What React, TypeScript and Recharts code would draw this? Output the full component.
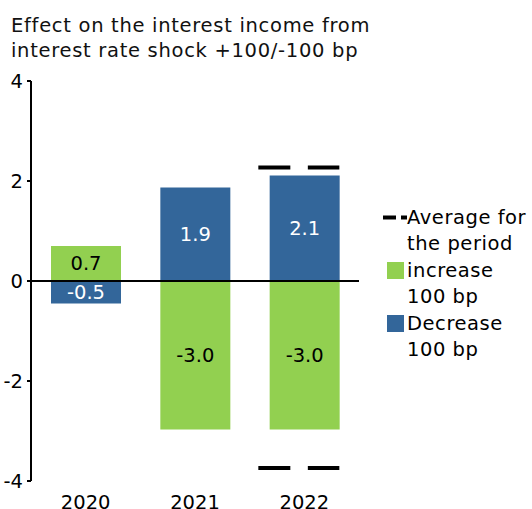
import {
	ComposedChart,
	Bar,
	Scatter,
	XAxis,
	YAxis,
	ReferenceLine,
	LabelList,
} from "recharts";

const years = ["2020", "2021", "2022"];
const increase = [0.7, -2.97, -2.97];
const decrease = [-0.45, 1.87, 2.11];
const averageHigh = [null, null, 2.27];
const averageLow = [null, null, -3.74];
const yTicks = [-4, -2, 0, 2, 4];

const GREEN = "#92d050";
const BLUE = "#33669a";
const FONT = "'DejaVu Sans', Verdana, sans-serif";
const FS = 19.5;

const data = years.map((year, i) => ({
	year,
	increase: increase[i],
	decrease: decrease[i],
	avgHigh: averageHigh[i],
	avgLow: averageLow[i],
}));

const legendItems = [
	{ key: "avg", lines: ["Average for", "the period"], type: "dash", color: "#000" },
	{ key: "inc", lines: ["increase", "100 bp"], type: "square", color: GREEN },
	{ key: "dec", lines: ["Decrease", "100 bp"], type: "square", color: BLUE },
];

// two short black dashes marking the period average
const AverageMark = (props: any) => {
	const { cx, cy } = props;
	if (typeof cx !== "number" || typeof cy !== "number" || isNaN(cy)) return <g />;
	return (
		<g>
			<line x1={cx - 46} x2={cx - 14} y1={cy} y2={cy} stroke="#000" strokeWidth={4} />
			<line x1={cx + 3.5} x2={cx + 35} y1={cy} y2={cy} stroke="#000" strokeWidth={4} />
		</g>
	);
};

const ChartLegend = () => (
	<div
		style={{
			position: "absolute",
			left: 382,
			top: 205,
			fontSize: FS,
			lineHeight: "25.5px",
			letterSpacing: 0.55,
			color: "#000",
		}}
	>
		{legendItems.map((item) => (
			<div key={item.key} style={{ display: "flex", marginBottom: 2 }}>
				<div style={{ width: 25, position: "relative", flexShrink: 0 }}>
					{item.type === "dash" ? (
						<svg width={25} height={25} style={{ position: "absolute", left: 0, top: 0 }}>
							<line x1={1} x2={14} y1={12.5} y2={12.5} stroke="#000" strokeWidth={4} />
							<line x1={19} x2={25} y1={12.5} y2={12.5} stroke="#000" strokeWidth={4} />
						</svg>
					) : (
						<div
							style={{
								position: "absolute",
								left: 5,
								top: 4,
								width: 17,
								height: 17,
								background: item.color,
							}}
						/>
					)}
				</div>
				<div>
					{item.lines.map((l) => (
						<div key={l}>{l}</div>
					))}
				</div>
			</div>
		))}
	</div>
);

export default function App() {
	const fmt = (v: any) => (typeof v === "number" ? v.toFixed(1) : v);

	return (
		<div
			style={{
				position: "absolute",
				left: 0,
				top: 0,
				width: 532,
				height: 509,
				background: "#fff",
				fontFamily: FONT,
			}}
		>
			<div
				style={{
					position: "absolute",
					left: 11,
					top: 13,
					fontSize: FS,
					lineHeight: "25px",
					letterSpacing: 0.7,
					color: "#111",
					whiteSpace: "nowrap",
				}}
			>
				<div>Effect on the interest income from</div>
				<div>interest rate shock +100/-100 bp</div>
			</div>
			<ComposedChart
				width={532}
				height={509}
				data={data}
				stackOffset="sign"
				margin={{ top: 81, right: 173, bottom: 0, left: 0 }}
				style={{ position: "absolute", left: 0, top: 0 }}
			>
				<XAxis
					dataKey="year"
					axisLine={false}
					tickLine={false}
					tickSize={6}
					tickMargin={8}
					height={28}
					tick={{ fill: "#000", fontSize: FS }}
				/>
				<YAxis
					type="number"
					domain={[-4, 4]}
					ticks={yTicks}
					width={31}
					tickSize={4}
					tickMargin={4}
					axisLine={{ stroke: "#000", strokeWidth: 2 }}
					tickLine={{ stroke: "#000", strokeWidth: 2 }}
					tick={{ fill: "#000", fontSize: FS }}
				/>
				<Bar dataKey="increase" stackId="a" fill={GREEN} barSize={70} isAnimationActive={false}>
					<LabelList dataKey="increase" position="center" formatter={fmt} fill="#000" fontSize={FS} />
				</Bar>
				<Bar dataKey="decrease" stackId="a" fill={BLUE} barSize={70} isAnimationActive={false}>
					<LabelList dataKey="decrease" position="center" formatter={fmt} fill="#fff" fontSize={FS} />
				</Bar>
				<ReferenceLine y={0} stroke="#000" strokeWidth={2} />
				<Scatter dataKey="avgHigh" shape={AverageMark} isAnimationActive={false} />
				<Scatter dataKey="avgLow" shape={AverageMark} isAnimationActive={false} />
			</ComposedChart>
			<ChartLegend />
		</div>
	);
}
